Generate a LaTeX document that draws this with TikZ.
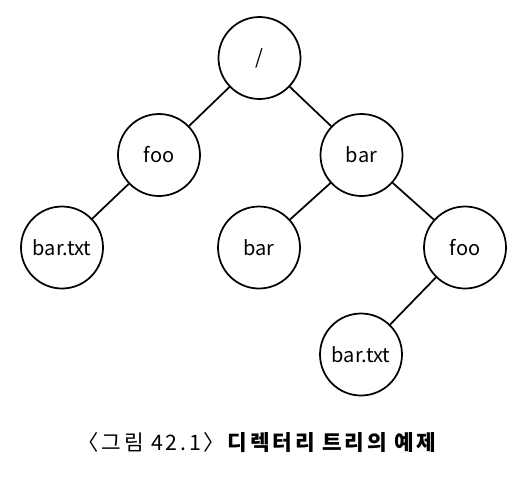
\documentclass[tikz,border=0pt]{standalone}
\usepackage{fontspec}
\setmainfont{Noto Sans CJK KR}
\usetikzlibrary{calc}

\tikzset{
  dirnode/.style={draw,circle,line width=1.3pt,minimum size=61.5pt,inner sep=0pt,
    font=\fontsize{15}{18}\selectfont},
}

\begin{document}
\begin{tikzpicture}[x=0.75pt,y=-0.75pt,line width=1.3pt]
  \useasboundingbox (0,0) rectangle (524,476);

  % directory nodes
  \node[dirnode] (root) at (259.5,58) {/};
  \node[dirnode] (foo) at (159,155) {foo};
  \node[dirnode] (bar) at (361.5,155) {bar};
  \node[dirnode] (footxt) at (62,247.5) {bar.txt};
  \node[dirnode] (barbar) at (259,247.5) {bar};
  \node[dirnode] (barfoo) at (465,247.5) {foo};
  \node[dirnode] (bartxt) at (361,354.5) {bar.txt};

  % edges
  \draw (root) -- (foo);
  \draw (root) -- (bar);
  \draw (foo) -- (footxt);
  \draw (bar) -- (barbar);
  \draw (bar) -- (barfoo);
  \draw (barfoo) -- (bartxt);

  \node[font=\fontsize{16}{18}\selectfont\addfontfeature{LetterSpace=13}] (caption) at (258.5,443)
    {〈그림 42.1〉\textbf{디렉터리 트리의 예제}};
\end{tikzpicture}
\end{document}
